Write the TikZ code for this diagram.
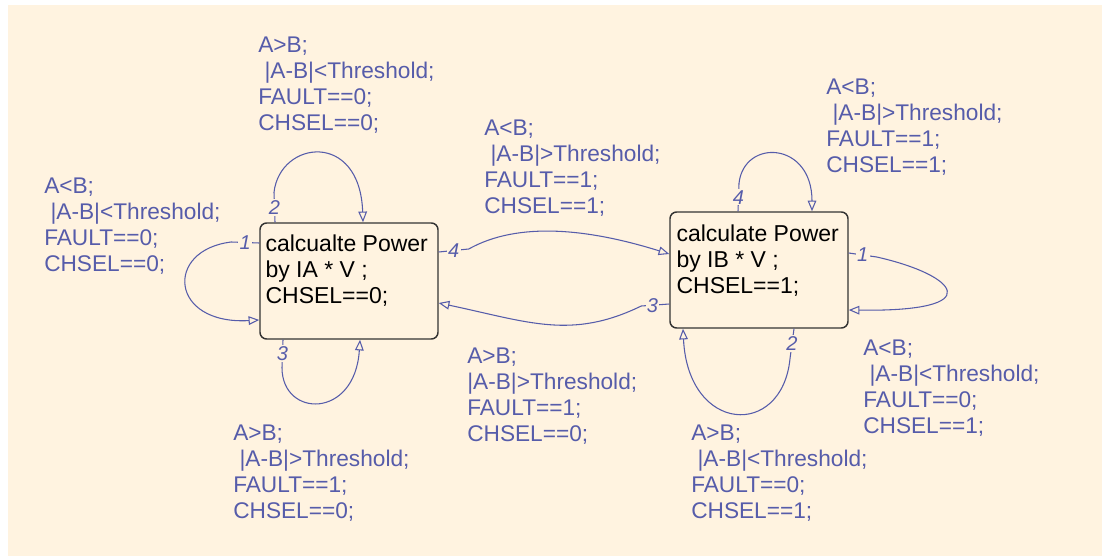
\documentclass[tikz,border=0pt]{standalone}
\usepackage{fontspec}
\setmainfont{Liberation Sans}
\usepackage{tikz}
\usetikzlibrary{arrows.meta,calc,positioning}
\definecolor{chartbg}{RGB}{255,243,224}
\definecolor{chartblue}{RGB}{86,92,170}
\tikzset{
	state chart/.style={
		x=0.75pt, y=-0.75pt,
		tr/.style={draw=chartblue, line width=0.8pt,
			-{Triangle[open, length=8pt, width=6.5pt]}},
		num/.style={fill=chartbg, text=chartblue, inner sep=1pt,
			font=\fontsize{15}{15}\selectfont\itshape},
		cond/.style={anchor=north west, inner sep=0pt, align=left,
			text=chartblue, font=\fontsize{17}{19.5}\selectfont}
		},
	state/.style={rectangle, rounded corners=5pt, draw=black!80, line width=1.1pt,
		minimum width=133.5pt, minimum height=87pt, inner sep=0pt},
	state text/.style={anchor=north west, inner sep=0pt, align=left,
		font=\fontsize{17.25}{19.5}\selectfont}
}

\begin{document}
\begin{tikzpicture}[state chart]
	\useasboundingbox (0,0) rectangle (1102,556);
	\fill[chartbg] (8,5) rectangle (1102,556);
	% states
	\node[state] (sA) at (349,281) {};
	\node[state] (sB) at (759,270) {};
	\node[state text] (tA) at ($(sA.north west)+(6,12)$)
		{calcualte Power\\by IA * V ;\\CHSEL==0;};
	\node[state text] (tB) at ($(sB.north west)+(7,13)$)
		{calculate Power\\by IB * V ;\\CHSEL==1;};
	% transitions of the first state
	\draw[tr] ($(sA.west)+(0,-38)$) -- node[num] {1} ++(-28,-1)
		.. controls +(-67,8) and +(-90,5) .. ($(sA.west)+(0,39)$);
	\draw[tr] ($(sA.north)+(-74,0)$) -- node[num] {2} ++(-1,-30)
		.. controls +(6,-52) and +(-3,-92) .. ($(sA.north)+(14,0)$);
	\draw[tr] ($(sA.south)+(-66,0)$) -- node[num] {3} ++(-1,28)
		.. controls +(0,50) and +(-5,80) .. ($(sA.south)+(11,0)$);
	\draw[tr] ($(sA.east)+(0,-29)$) -- node[num] {4} ++(30,-3)
		.. controls +(50,-28) and +(-80,-25) .. ($(sB.west)+(0,-16)$);
	% transitions of the second state
	\draw[tr] ($(sB.east)+(0,-17)$) -- node[num] {1} ++(28,4)
		.. controls +(80,18) and +(142,2) .. ($(sB.east)+(0,40)$);
	\draw[tr] ($(sB.south)+(35,0)$) -- node[num] {2} ++(-4,30)
		.. controls +(-8,80) and +(5,105) .. ($(sB.south)+(-76,0)$);
	\draw[tr] ($(sB.west)+(0,34)$) -- node[num, pos=.6] {3} ++(-28,2)
		.. controls +(-70,34) and +(90,19) .. ($(sA.east)+(0,22)$);
	\draw[tr] ($(sB.north)+(-21,0)$) -- node[num] {4} ++(1,-28)
		.. controls +(5,-45) and +(0,-70) .. ($(sB.north)+(53,0)$);
	% conditions
	\node[cond] (cA2) at (258,37) {A>B;\\\ |A-B|<Threshold;\\FAULT==0;\\CHSEL==0;};
	\node[cond] (cA1) at (44,178) {A<B;\\\ |A-B|<Threshold;\\FAULT==0;\\CHSEL==0;};
	\node[cond] (cA3) at (233,425) {A>B;\\\ |A-B|>Threshold;\\FAULT==1;\\CHSEL==0;};
	\node[cond] (cAB) at (484,120) {A<B;\\\ |A-B|>Threshold;\\FAULT==1;\\CHSEL==1;};
	\node[cond] (cBA) at (467,348) {A>B;\\|A-B|>Threshold;\\FAULT==1;\\CHSEL==0;};
	\node[cond] (cB4) at (826,79) {A<B;\\\ |A-B|>Threshold;\\FAULT==1;\\CHSEL==1;};
	\node[cond] (cB1) at (863,340) {A<B;\\\ |A-B|<Threshold;\\FAULT==0;\\CHSEL==1;};
	\node[cond] (cB2) at (691,425) {A>B;\\\ |A-B|<Threshold;\\FAULT==0;\\CHSEL==1;};
\end{tikzpicture}
\end{document}
